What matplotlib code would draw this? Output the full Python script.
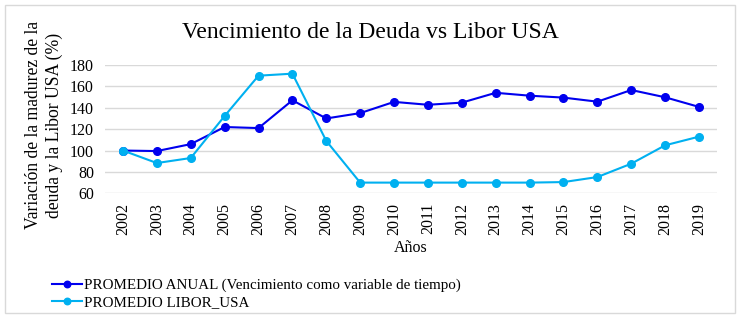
import matplotlib.pyplot as plt
from matplotlib.patches import Rectangle

# Données
annees = ["2002", "2003", "2004", "2005", "2006", "2007", "2008", "2009", "2010",
          "2011", "2012", "2013", "2014", "2015", "2016", "2017", "2018", "2019"]
promedio_anual = [100, 99.5, 106, 122, 121, 147, 130, 135, 145.5,
                  142.8, 144.8, 154, 151.3, 149.5, 145.7, 156.6, 149.8, 140.8]
promedio_libor = [100, 88.3, 93, 132.3, 170, 171.9, 109, 70, 70,
                  70, 70, 70, 70, 70.5, 75.2, 87.7, 104.9, 113]

plt.rcParams['font.family'] = ['Liberation Serif', 'DejaVu Serif']

fig = plt.figure(figsize=(7.4, 3.19), dpi=100)
ax = fig.add_axes([105 / 740, 1 - 193.3 / 319, 612 / 740, 128.3 / 319])

x = list(range(len(annees)))
l1, = ax.plot(x, promedio_anual, color="#0000EE", marker="o", markersize=5.5,
              linewidth=1.5, label="PROMEDIO ANUAL (Vencimiento como variable de tiempo)")
l2, = ax.plot(x, promedio_libor, color="#00B0F0", marker="o", markersize=5.5,
              linewidth=1.5, label="PROMEDIO LIBOR_USA")

ax.set_xlim(-0.53, len(annees) - 1 + 0.53)
ax.set_ylim(60, 180)
ax.set_yticks(range(60, 181, 20))
ax.set_xticks(x)
ax.set_xticklabels(annees, rotation=90, fontsize=11.5)
ax.tick_params(axis="y", labelsize=11.5, length=0, pad=8)
ax.tick_params(axis="x", length=0, pad=7)
ax.grid(axis="y", color="#D9D9D9", linewidth=1)
ax.set_axisbelow(True)
for s in ax.spines.values():
    s.set_visible(False)
for l in (l1, l2):
    l.set_clip_on(False)

ax.set_ylabel("Variación de la madurez de la\ndeuda y la Libor USA (%)", fontsize=12.7,
              linespacing=1.25)
ax.yaxis.set_label_coords(-42 / 612, 0.53)
ax.set_xlabel("Años", fontsize=11.5)
ax.xaxis.set_label_coords(0.5, -(248 - 193.3) / 128.3)
ax.xaxis.label.set_va("center")

fig.text(0.5, 1 - 32 / 319, "Vencimiento de la Deuda vs Libor USA", ha="center",
         va="center", fontsize=17)

fig.legend(handles=[l1, l2], loc="upper left", bbox_to_anchor=(44 / 740, 1 - 271 / 319),
           frameon=False, fontsize=10.8, handlelength=2.0, handletextpad=0.2,
           labelspacing=0.25, borderpad=0, markerscale=0.85)

# Cadre gris autour du graphique
fig.patches.append(Rectangle((5 / 740, 6 / 319), 730 / 740, 308 / 319, transform=fig.transFigure,
                             fill=False, edgecolor="#D9D9D9", linewidth=1))

plt.savefig("out.png", dpi=100)
